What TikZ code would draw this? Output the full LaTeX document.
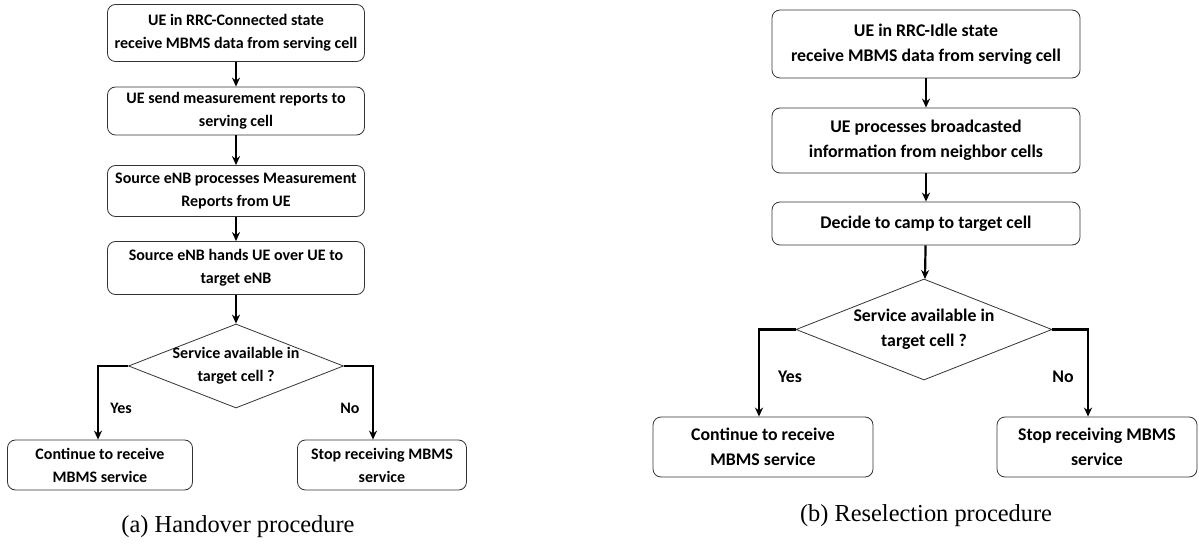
\documentclass[tikz,border=0pt]{standalone}
\usepackage{fontspec}
\setmainfont{Liberation Serif}
\newfontfamily\boxfont{Carlito}
\usetikzlibrary{arrows.meta,positioning,shapes.geometric}

\begin{document}
\begin{tikzpicture}[
    x = 0.5pt, y = -0.5pt, % one unit is one pixel of the reference
    > = {Stealth[length=4.5pt,width=4pt]}, % arrow head style
    semithick % line style
    ]

    \tikzset{
    proc/.style = {draw = black!80, thin, rounded corners = 4pt, align = center,
        inner sep = 0pt},
    small/.style = {font = \boxfont\bfseries\fontsize{8}{11.5}\selectfont},
    big/.style = {font = \boxfont\bfseries\fontsize{8.9}{12.5}\selectfont},
    decide/.style = {draw = black!80, thin, diamond, aspect = 2.55, inner sep = -6pt,
        align = center},
    flow/.style = {->, line width = 1.1pt},
    caption/.style = {font = \fontsize{12.2}{14}\selectfont}
    }

    \useasboundingbox (0,0) rectangle (1199,545);

    % (a) handover
    \node[proc, small, minimum width = 128.5pt, minimum height = 28.5pt] (h1) at (236,33)
        {UE in RRC-Connected state\\receive MBMS data from serving cell};
    \node[proc, small, minimum width = 128.5pt, minimum height = 24pt] (h2) at (236,111)
        {UE send measurement reports to\\serving cell};
    \node[proc, small, minimum width = 128.5pt, minimum height = 25.5pt] (h3) at (236,191)
        {Source eNB processes Measurement\\Reports from UE};
    \node[proc, small, minimum width = 128.5pt, minimum height = 26.5pt] (h4) at (236,268)
        {Source eNB hands UE over UE to\\target eNB};
    \node[decide, small, minimum width = 107.5pt, minimum height = 42pt] (hd) at (236,366)
        {Service available in\\target cell ?};
    \node[proc, small, minimum width = 92.5pt, minimum height = 25pt] (hyes) at (100,465)
        {Continue to receive\\MBMS service};
    \node[proc, small, minimum width = 84.5pt, minimum height = 25pt] (hno) at (382,465)
        {Stop receiving MBMS\\service};
    \node[small] (hy) at (121,408) {Yes};
    \node[small] (hn) at (350,408) {No};
    \node[caption] (hcap) at (238,527) {(a) Handover procedure};

    \draw[flow] (h1) -- (h2);
    \draw[flow] (h2) -- (h3);
    \draw[flow] (h3) -- (h4);
    \draw[flow] (h4) -- (hd);
    \draw[flow] (hd.west) -| ([xshift=-1pt]hyes.north);
    \draw[flow] (hd.east) -| ([xshift=-4.5pt]hno.north);

    % (b) reselection
    \node[proc, big, minimum width = 154pt, minimum height = 34pt] (r1) at (926,44)
        {UE in RRC-Idle state\\receive MBMS data from serving cell};
    \node[proc, big, minimum width = 154pt, minimum height = 32.5pt] (r2) at (926,140.5)
        {UE processes broadcasted\\information from neighbor cells};
    \node[proc, big, minimum width = 154pt, minimum height = 21.5pt] (r3) at (926,223.5)
        {Decide to camp to target cell};
    \node[decide, big, minimum width = 128pt, minimum height = 50.5pt] (rd) at (924,329.5)
        {Service available in\\target cell ?};
    \node[proc, big, minimum width = 110pt, minimum height = 30pt] (ryes) at (763,447)
        {Continue to receive\\MBMS service};
    \node[proc, big, minimum width = 100pt, minimum height = 30pt] (rno) at (1097,447)
        {Stop receiving MBMS\\service};
    \node[big] (ry) at (790,377) {Yes};
    \node[big] (rn) at (1063,377) {No};
    \node[caption] (rcap) at (926,516) {(b) Reselection procedure};

    \draw[flow] (r1) -- (r2);
    \draw[flow] (r2) -- (r3);
    \draw[flow] (r3) -- (rd);
    \draw[flow] (rd.west) -| ([xshift=-2pt]ryes.north);
    \draw[flow] (rd.east) -| ([xshift=-4.5pt]rno.north);
\end{tikzpicture}
\end{document}
